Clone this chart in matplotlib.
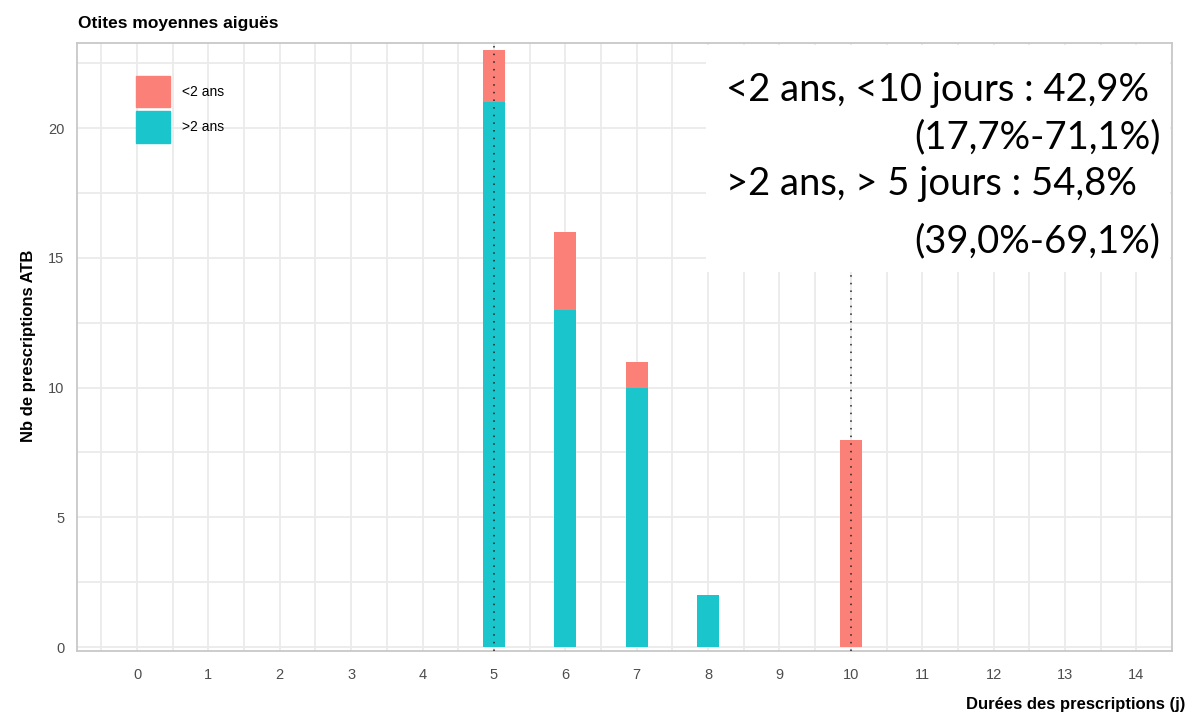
import matplotlib.pyplot as plt
from matplotlib.patches import Patch, Rectangle

plt.rcParams['font.family'] = ['Liberation Sans', 'DejaVu Sans']

durees = [5, 6, 7, 8, 10]
moins_2ans = [2, 3, 1, 0, 8]
plus_2ans = [21, 13, 10, 2, 0]
x_ticks = list(range(0, 15))
y_ticks = [0, 5, 10, 15, 20]
seuils = [5, 10]

col_moins = '#FB8078'
col_plus = '#1AC5CB'

fig = plt.figure(figsize=(11.89, 7.2), dpi=100)
ax = fig.add_axes([0.0648, 0.0958, 0.921, 0.8445])

ax.bar(durees, plus_2ans, width=0.31, color=col_plus, zorder=3)
ax.bar(durees, moins_2ans, width=0.31, bottom=plus_2ans, color=col_moins, zorder=3)

for s in seuils:
    ax.axvline(s, color='#222222', linestyle=(0, (1, 4)), linewidth=1.1, zorder=4)

ax.set_xlim(-0.84, 14.5)
ax.set_ylim(-0.15, 23.28)
ax.set_xticks(x_ticks)
ax.set_yticks(y_ticks)
ax.set_xticks([v + 0.5 for v in range(-1, 15)], minor=True)
ax.set_yticks([2.5, 7.5, 12.5, 17.5, 22.5], minor=True)
ax.grid(True, which='both', color='#EBEBEB', linewidth=1.3, zorder=0)
ax.tick_params(which='both', length=0, labelsize=10.5, labelcolor='#4D4D4D', pad=12)
ax.tick_params(axis='y', pad=9)
for sp in ax.spines.values():
    sp.set_color('#C8C8C8')
    sp.set_linewidth(1.3)

fig.text(0.0655, 0.967, 'Otites moyennes aiguës', fontsize=12.5, ha='left', va='center',
         fontweight='bold')
fig.text(0.024, 0.52, 'Nb de prescriptions ATB', fontsize=12, rotation=90,
         ha='center', va='center', fontweight='bold')
fig.text(0.997, 0.021, 'Durées des prescriptions (j)', fontsize=12, ha='right',
         va='center', fontweight='bold')

handles = [Patch(color=col_moins), Patch(color=col_plus)]
ax.legend(handles, ['<2 ans', '>2 ans'], loc='upper left', bbox_to_anchor=(0.049, 0.955),
          frameon=False, fontsize=10, handlelength=2.4, handleheight=3.1,
          handletextpad=0.9, labelspacing=0.3, borderaxespad=0)

# encadre de texte blanc superpose
fig.patches.append(Rectangle((0.594, 0.622), 0.39, 0.316, transform=fig.transFigure,
                             facecolor='white', edgecolor='none', zorder=5))
txt_kw = dict(fontsize=27.5, family='Lato', zorder=6, va='center')
fig.text(0.611, 0.875, '<2 ans, <10 jours : 42,9%', ha='left', **txt_kw)
fig.text(0.976, 0.810, '(17,7%-71,1%)', ha='right', **txt_kw)
fig.text(0.611, 0.745, '>2 ans, > 5 jours : 54,8%', ha='left', **txt_kw)
fig.text(0.976, 0.665, '(39,0%-69,1%)', ha='right', **txt_kw)

fig.savefig('out.png', dpi=100)
